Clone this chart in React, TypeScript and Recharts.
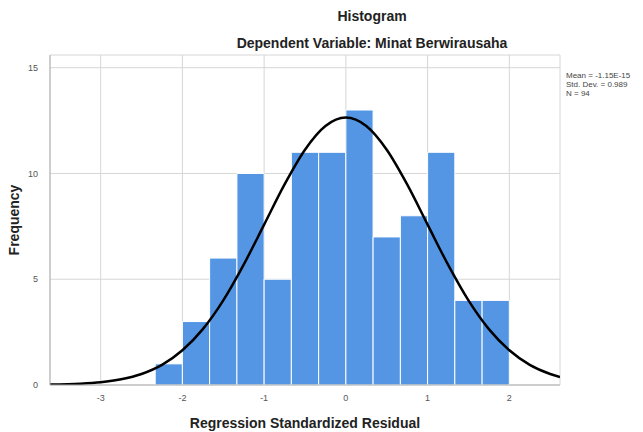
import {
  ComposedChart,
  Line,
  XAxis,
  YAxis,
  CartesianGrid,
  ReferenceArea,
} from "recharts";

// histogram bins (edges on the residual axis) and their frequencies
const binEdges = [-2.333, -2, -1.667, -1.333, -1, -0.667, -0.333, 0, 0.333, 0.667, 1, 1.333, 1.667, 2];
const counts = [1, 3, 6, 10, 5, 11, 11, 13, 7, 8, 11, 4, 4];

// normal curve
const curveX = [-3.62, -3.25, -3, -2.75, -2.5, -2.25, -2, -1.75, -1.5, -1.25, -1, -0.75, -0.5, -0.25, 0, 0.25, 0.5, 0.75, 1, 1.25, 1.5, 1.75, 2, 2.25, 2.5, 2.62];
const curveY = [0.02, 0.06, 0.13, 0.27, 0.52, 0.95, 1.64, 2.64, 4.0, 5.69, 7.58, 9.48, 11.12, 12.24, 12.64, 12.24, 11.12, 9.48, 7.58, 5.69, 4.0, 2.64, 1.64, 0.95, 0.52, 0.38];

const xTicks = [-3, -2, -1, 0, 1, 2];
const yTicks = [0, 5, 10, 15];
const stats = ["Mean = -1.15E-15", "Std. Dev. = 0.989", "N = 94"];

const curve = curveX.map((x, i) => ({ x, y: curveY[i] }));

const font = "'Liberation Sans', Arial, sans-serif";

export default function App() {
  return (
    <div
      style={{
        position: "absolute",
        left: 0,
        top: 0,
        width: 643,
        height: 432,
        background: "#fff",
        fontFamily: font,
      }}
    >
      <div style={{ position: "absolute", left: 0, width: 744, top: 8, textAlign: "center", fontSize: 14, fontWeight: "bold", color: "#222" }}>
        Histogram
      </div>
      <div style={{ position: "absolute", left: 0, width: 744, top: 35, textAlign: "center", fontSize: 14, fontWeight: "bold", color: "#222" }}>
        Dependent Variable: Minat Berwirausaha
      </div>
      <div style={{ position: "absolute", left: 566, top: 71, fontSize: 8, lineHeight: "9px", color: "#444" }}>
        {stats.map((s) => (
          <div key={s}>{s}</div>
        ))}
      </div>
      <ComposedChart
        width={643}
        height={432}
        data={curve}
        margin={{ top: 55, right: 83, bottom: 0, left: 20 }}
        style={{ fontFamily: font }}
      >
        <CartesianGrid stroke="#d6d6d6" strokeWidth={1} />
        <XAxis
          type="number"
          dataKey="x"
          domain={[-3.62, 2.62]}
          ticks={xTicks}
          allowDataOverflow
          height={47}
          tickLine={false}
          axisLine={{ stroke: "#b0b0b0" }}
          tick={{ fontSize: 9, fill: "#555" }}
          tickMargin={4}
          label={{
            value: "Regression Standardized Residual",
            position: "insideBottom",
            offset: 4,
            style: { fontSize: 14, fontWeight: "bold", fill: "#222" },
          }}
        />
        <YAxis
          type="number"
          domain={[0, 15.6]}
          ticks={yTicks}
          allowDataOverflow
          width={30}
          tickLine={false}
          axisLine={{ stroke: "#b0b0b0" }}
          tick={{ fontSize: 9, fill: "#555" }}
          tickMargin={6}
          label={{
            value: "Frequency",
            angle: -90,
            position: "insideLeft",
            offset: -6,
            style: { fontSize: 14, fontWeight: "bold", fill: "#222", textAnchor: "middle" },
          }}
        />
        {counts.map((c, i) => (
          <ReferenceArea
            key={i}
            x1={binEdges[i]}
            x2={binEdges[i + 1]}
            y1={0}
            y2={c}
            fill="#5596e4"
            fillOpacity={1}
            stroke="#ffffff"
            strokeWidth={1}
          />
        ))}
        <Line
          type="monotone"
          dataKey="y"
          stroke="#000"
          strokeWidth={2.5}
          dot={false}
          isAnimationActive={false}
        />
      </ComposedChart>
    </div>
  );
}
